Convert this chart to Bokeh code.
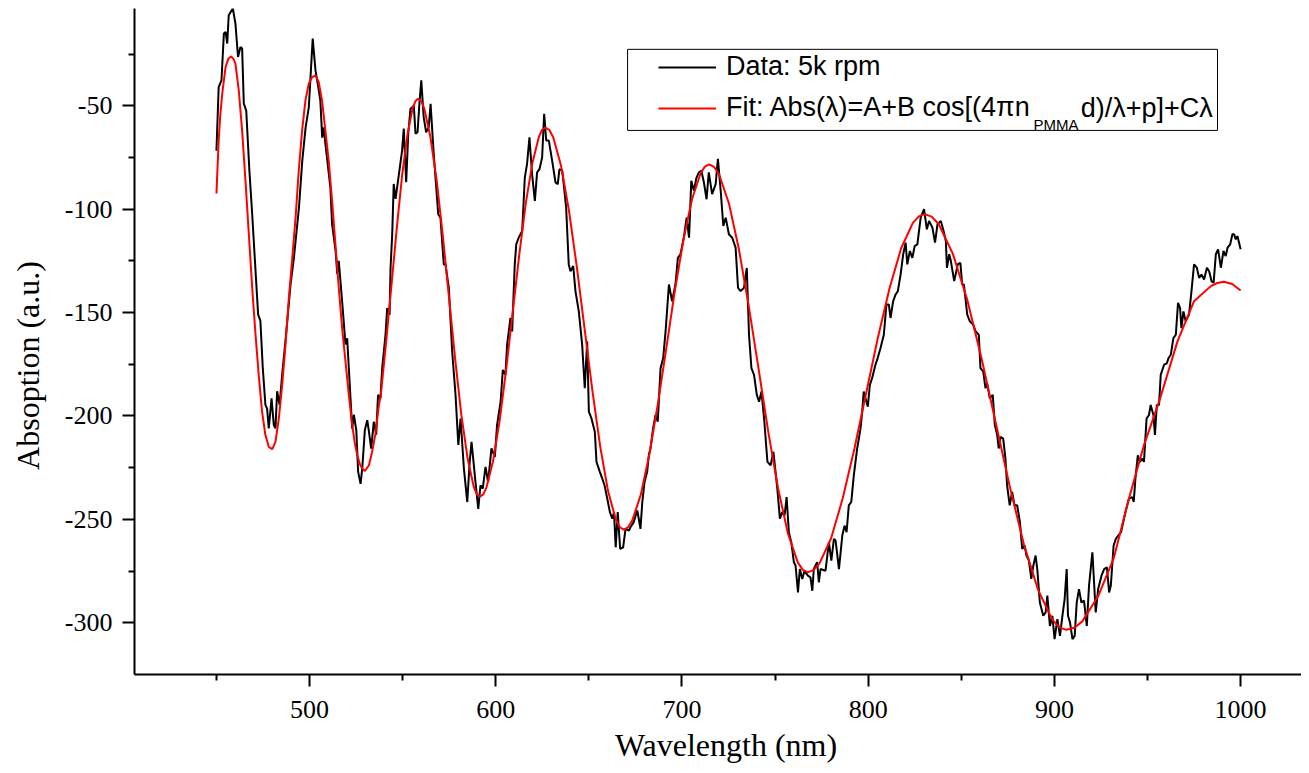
from bokeh.plotting import figure
from bokeh.models import Range1d, FixedTicker, Legend, LegendItem, Label, BoxAnnotation
from bokeh.core.properties import value
from bokeh.embed import file_html
from bokeh.resources import INLINE

# ---------------- data ----------------
wl_data = [
    450.0, 451.2, 452.7, 454.0, 454.9, 455.8, 456.6, 458.8, 460.2, 461.6,
    462.9, 463.8, 464.7, 466.0, 467.7, 469.2, 470.9, 472.4, 473.6, 474.9,
    476.3, 477.2, 478.1, 479.6, 480.8, 481.7, 482.6, 483.9, 485.5, 487.2,
    489.8, 491.6, 494.3, 496.1, 497.9, 499.6, 501.7, 503.2, 504.1, 505.8,
    506.8, 507.6, 508.5, 511.2, 512.1, 514.0, 514.9, 515.7, 517.5, 519.3,
    520.2, 521.1, 522.9, 523.8, 525.1, 526.1, 527.4, 528.3, 529.7, 531.0,
    531.9, 533.1, 534.5, 535.8, 536.8, 538.1, 539.0, 540.8, 541.7, 543.0,
    543.5, 544.4, 545.2,
    546.2, 548.0, 549.7, 550.6, 551.9, 553.0, 554.2, 556.0, 556.9, 558.0,
    559.0, 560.0, 561.3, 562.6, 564.0, 565.0, 566.7, 569.1, 570.3, 572.1,
    573.0, 574.8, 576.6, 578.4, 579.9, 581.1, 582.9, 584.7, 586.0, 587.0,
    589.1, 590.6, 591.8, 593.0, 594.5, 595.9, 597.7, 599.5, 600.7, 602.6,
    603.8, 605.2, 606.1, 607.9, 608.8, 610.2, 611.0, 612.3, 614.2, 615.6,
    616.8, 618.1, 619.5, 621.0, 622.2, 623.5, 624.9, 626.0, 627.1, 628.5,
    630.3, 632.1, 633.3, 634.2, 635.7, 636.5, 637.8, 639.2, 640.1, 641.6,
    642.8, 644.6, 646.4, 647.8, 649.1, 650.0, 651.4, 653.2,
    654.1, 655.9, 657.2, 658.4, 659.9, 661.3, 662.6, 663.5, 664.4, 665.5,
    666.8, 668.4, 669.7, 671.5, 672.4, 674.1, 676.0, 676.8, 677.7, 678.7,
    679.9, 681.3, 682.2, 683.1, 684.5, 685.8, 687.0, 688.5, 689.9, 691.2,
    693.0, 694.7, 696.5, 697.8, 699.2, 701.0, 702.5, 703.8, 705.0, 706.4,
    707.8, 709.1, 710.4, 711.8, 713.2, 714.4, 716.2, 718.1, 719.3, 720.8,
    722.2, 723.5, 725.2, 727.0, 728.8, 730.1, 731.5, 733.3, 734.8, 736.0,
    737.3, 738.7, 740.2, 741.4, 742.7, 744.1, 745.9, 747.6, 749.1, 751.2,
    752.6,
    753.8, 755.1, 756.2, 757.4, 758.7, 760.1, 761.0, 762.3, 763.3, 764.6,
    765.8, 767.6, 769.0, 770.0, 770.8, 772.6, 773.5, 774.4, 777.1, 778.9,
    780.2, 781.6, 782.5, 784.3, 786.1, 787.3, 788.4, 789.6, 790.9, 792.3,
    794.1, 795.9, 796.8, 797.6, 798.6, 799.8, 800.9, 802.1, 803.9, 805.1,
    806.6, 808.4, 809.8, 811.1, 812.0, 813.4, 814.7, 815.9, 817.4, 818.8,
    820.1, 821.0, 822.4, 823.7, 825.0, 826.4, 828.2, 830.0, 831.5, 832.7,
    834.5, 835.9, 837.2, 839.0, 840.5, 841.7, 842.3, 843.5, 844.4, 846.2,
    848.1, 849.5,
    850.5, 851.4, 853.2, 854.6, 856.4, 857.7, 859.4, 860.3, 861.8, 863.0,
    863.9, 865.3, 866.9, 868.0, 869.3, 870.1, 871.1, 872.5, 873.7, 874.6,
    876.0, 877.3, 878.6, 880.0, 881.5, 882.7, 884.0, 885.0, 886.3, 887.6,
    888.7, 889.9, 890.8, 892.2, 894.0, 895.3, 896.2, 897.6, 898.9, 900.1,
    901.6, 903.0, 904.3, 905.5, 906.6, 907.3, 908.4, 909.7, 910.9, 912.0,
    913.2, 914.5, 915.9, 917.4, 918.6, 920.4, 922.2, 923.5, 925.3, 926.7,
    928.2, 929.4, 930.3, 931.8, 933.0, 934.3, 935.8, 938.0,
    940.0, 941.8, 942.6, 943.5, 944.8, 945.9, 947.2, 948.1, 949.5, 950.8,
    951.7, 953.2, 954.0, 955.0, 956.2, 957.1, 958.9, 960.4, 961.3, 962.5,
    963.9, 965.2, 966.4, 967.5, 968.2, 969.3, 970.5, 972.3, 973.6, 975.0,
    976.5, 977.7, 979.0, 980.4, 981.9, 983.1, 984.4, 985.5, 986.7, 987.9,
    989.4, 990.8, 992.0, 993.0, 994.4, 995.6, 996.5, 997.4, 998.3, 1000.0,
]

abs_data = [
    -71.7, -41.0, -37.7, -15.0, -14.3, -19.9, -6.2, -2.9, -10.2, -26.4,
    -21.6, -22.3, -48.9, -52.3, -81.4, -102.3, -128.4, -151.0, -154.0, -177.0,
    -194.6, -196.4, -206.0, -191.5, -204.3, -206.0, -188.0, -194.6, -178.0, -162.4,
    -136.4, -123.5, -99.4, -76.5, -60.4, -50.8, -17.5, -32.9, -37.7, -47.4,
    -65.4, -60.5, -68.3, -89.6, -107.2, -120.2, -131.4, -125.0, -144.5, -165.4,
    -162.4, -176.9, -206.1, -199.4, -206.8, -227.0, -232.8, -225.5, -206.8, -202.0,
    -207.6, -215.8, -202.8, -209.0, -189.8, -191.5, -176.9, -160.7, -147.8, -151.0,
    -128.4, -112.0, -87.8,
    -95.0, -83.0, -71.7, -61.0, -87.0, -63.5, -51.5, -49.9, -63.5, -62.8,
    -49.0, -37.7, -55.5, -62.8, -60.4, -49.0, -73.3, -102.4, -104.1, -126.7,
    -126.7, -138.0, -168.8, -189.8, -214.0, -201.2, -225.4, -241.6, -222.2, -212.5,
    -231.9, -244.9, -233.5, -235.1, -224.6, -231.9, -215.7, -219.8, -204.4, -193.1,
    -177.7, -180.1, -165.5, -152.6, -159.1, -126.7, -117.0, -113.8, -110.5, -84.7,
    -78.2, -65.2, -83.0, -96.0, -82.2, -80.6, -75.0, -53.9, -66.8, -66.8,
    -76.6, -87.1, -87.9, -80.6, -81.4, -87.9, -99.2, -126.7, -130.0, -127.5,
    -139.6, -149.4, -165.5, -186.6, -163.9, -197.9, -201.2, -207.6,
    -222.2, -227.0, -230.3, -233.5, -240.0, -246.5, -249.7, -246.5, -263.5, -246.5,
    -264.3, -263.5, -254.6, -255.4, -253.7, -251.3, -245.6, -249.7, -254.6, -241.6,
    -231.9, -227.0, -218.9, -215.7, -206.0, -199.5, -202.8, -176.9, -172.0, -159.1,
    -136.4, -144.5, -136.4, -123.5, -121.8, -113.8, -104.1, -113.8, -86.3, -91.1,
    -84.7, -82.2, -81.4, -87.1, -95.2, -82.2, -92.7, -87.9, -75.7, -91.1,
    -108.1, -104.1, -112.1, -113.8, -118.6, -138.0, -139.6, -138.0, -128.4, -160.7,
    -176.9, -180.1, -189.8, -193.1, -188.2, -201.2, -222.2, -223.8, -217.3, -235.1,
    -249.7,
    -246.5, -248.1, -239.2, -256.2, -261.0, -270.7, -272.3, -285.3, -274.0, -278.8,
    -274.8, -277.2, -278.0, -284.5, -274.0, -270.7, -280.4, -274.0, -274.8, -261.0,
    -269.9, -259.4, -260.2, -274.0, -257.8, -253.0, -256.2, -243.2, -241.6, -228.6,
    -215.7, -206.0, -197.9, -188.2, -191.5, -195.5, -185.0, -181.7, -175.2, -172.0,
    -167.2, -160.7, -146.1, -146.1, -152.6, -144.5, -141.3, -139.7, -131.6, -121.8,
    -116.2, -126.7, -120.2, -123.5, -117.8, -117.0, -104.1, -100.0, -109.7, -105.7,
    -108.9, -116.2, -107.3, -105.7, -110.5, -115.4, -128.4, -121.8, -125.1, -134.8,
    -126.7, -125.9,
    -136.4, -136.4, -151.0, -154.2, -155.8, -159.1, -160.7, -176.9, -178.5, -186.6,
    -184.2, -191.5, -189.8, -204.4, -209.2, -215.7, -210.1, -210.9, -220.6, -233.5,
    -243.2, -236.7, -243.2, -243.2, -251.3, -264.3, -262.6, -267.5, -269.9, -278.8,
    -272.3, -267.5, -274.0, -290.2, -296.6, -295.0, -286.9, -301.5, -296.6, -307.9,
    -298.2, -306.3, -296.6, -288.5, -274.0, -296.6, -299.9, -307.9, -306.3, -290.1,
    -283.7, -290.2, -289.3, -301.5, -282.0, -265.9, -295.0, -283.7, -277.2, -274.0,
    -273.2, -285.3, -282.0, -262.6, -259.4, -257.8, -256.2, -247.0,
    -240.0, -239.2, -241.6, -230.3, -219.0, -222.2, -220.6, -222.2, -201.2, -199.5,
    -194.7, -199.5, -209.2, -194.7, -194.7, -180.1, -175.2, -174.5, -172.0, -170.4,
    -162.3, -160.7, -145.3, -147.8, -157.5, -149.4, -154.2, -151.0, -139.7, -126.7,
    -128.3, -133.2, -131.6, -134.0, -128.3, -130.0, -134.8, -135.6, -121.8, -119.4,
    -128.3, -120.2, -122.7, -118.6, -117.0, -112.1, -112.1, -114.6, -113.0, -119.4,
]

wl_fit = [
    450.0, 451.2, 452.1, 453.1, 454.9, 456.4, 457.9, 459.2, 460.2, 462.0,
    463.8, 465.6, 467.4, 469.2, 471.0, 472.7, 474.5, 476.3, 478.1, 480.0,
    481.7, 483.5, 485.3, 487.1, 488.9, 490.6, 492.5, 494.2, 496.0, 497.8,
    499.6, 501.4, 503.2, 504.9, 506.7, 508.5, 510.3, 512.1, 513.9, 515.7,
    517.5, 519.3, 521.1, 522.9, 524.3, 525.6, 527.0, 528.3, 529.7, 531.9,
    533.6, 535.4, 537.2, 538.3, 541.1, 544.0, 546.9, 549.7, 552.6, 555.4,
    556.9, 558.3, 560.0, 561.6, 564.9, 568.3, 571.6, 574.9, 578.2, 581.5,
    584.9, 588.2, 589.8, 591.5, 593.3, 595.0, 598.5, 602.1, 605.6, 609.1,
    612.6, 616.1, 619.7, 623.2, 624.9, 626.7, 628.8, 630.9, 635.1, 639.3,
    643.5, 647.7, 651.9, 656.1, 660.3, 664.5, 666.6, 668.7, 671.0, 673.3,
    677.9, 682.5, 687.1, 691.7, 696.2, 700.8, 705.4, 710.0, 712.3, 714.6,
    717.2, 719.9, 725.2, 730.5, 735.8, 741.1, 746.3, 751.6, 756.9, 762.2,
    764.9, 767.5, 770.6, 773.8, 780.1, 786.3, 792.6, 798.9, 805.2, 811.5,
    817.7, 824.0, 827.2, 830.3, 834.1, 837.9, 845.5, 853.2, 860.8, 868.4,
    876.0, 883.6, 891.3, 898.9, 902.7, 906.5, 910.7, 915.0, 923.4, 931.9,
    940.0, 948.1, 956.2, 966.1, 975.0, 984.0, 987.5, 991.0, 995.5, 1000.0,
]

abs_fit = [
    -92.4, -66.8, -54.0, -44.2, -31.3, -27.3, -26.1, -27.4, -29.6, -42.6,
    -62.0, -86.3, -112.1, -138.0, -160.7, -180.1, -197.9, -209.2, -214.9, -216.0,
    -212.5, -201.2, -185.0, -165.5, -142.9, -125.1, -104.1, -81.4, -62.0, -47.4,
    -39.3, -36.1, -35.3, -38.5, -47.4, -62.0, -76.6, -96.0, -117.0, -138.0,
    -157.5, -173.6, -189.8, -204.4, -213.0, -218.9, -223.2, -225.4, -226.6, -223.8,
    -217.3, -208.5, -195.0, -189.5, -164.4, -136.6, -108.8, -83.7, -63.8, -51.0,
    -47.7, -46.6, -47.8, -51.3, -65.0, -86.3, -113.1, -142.8, -172.5, -199.3,
    -220.6, -234.3, -237.8, -239.0, -237.9, -234.6, -222.0, -202.2, -177.3, -149.8,
    -122.2, -97.3, -77.5, -64.9, -61.6, -60.5, -61.7, -65.3, -79.1, -100.6,
    -127.7, -157.7, -187.7, -214.8, -236.3, -250.1, -253.7, -254.9, -253.8, -250.6,
    -238.0, -218.5, -193.9, -166.6, -139.3, -114.7, -95.2, -82.6, -79.4, -78.3,
    -79.5, -83.1, -97.1, -119.0, -146.5, -177.0, -207.4, -234.9, -256.8, -270.8,
    -274.4, -275.6, -274.5, -271.4, -259.1, -239.9, -215.8, -189.0, -162.2, -138.1,
    -118.9, -106.6, -103.5, -102.4, -103.6, -107.3, -121.6, -143.8, -171.8, -202.9,
    -234.0, -262.0, -284.2, -298.5, -302.2, -303.4, -302.4, -299.3, -287.3, -268.7,
    -240.0, -214.1, -193.1, -163.9, -144.5, -137.2, -135.7, -135.1, -136.2, -139.3,
]

x_major = [500, 600, 700, 800, 900, 1000]
x_minor = [450, 550, 650, 750, 850, 950]
y_major = [-300, -250, -200, -150, -100, -50]
y_minor = [-275, -225, -175, -125, -75, -25]

data_label = "Data: 5k rpm"
fit_label_main = "Fit: Abs(\u03bb)=A+B cos[(4\u03c0n"
fit_label_sub = "PMMA"
fit_label_tail = "d)/\u03bb+p]+C\u03bb"
x_title = "Wavelength (nm)"
y_title = "Absoption (a.u.)"

assert len(wl_data) == len(abs_data)
assert len(wl_fit) == len(abs_fit)

SERIF = "Liberation Serif"
SANS = "Liberation Sans"

p = figure(width=1301, height=765, output_backend="svg", toolbar_location=None,
           x_range=Range1d(406.0, 1032.7), y_range=Range1d(-325.0, -2.95),
           min_border_left=134, min_border_right=0, min_border_top=8,
           min_border_bottom=91)

p.outline_line_color = None
p.xgrid.visible = False
p.ygrid.visible = False
p.background_fill_color = "white"
p.border_fill_color = "white"

for ax in (p.xaxis[0], p.yaxis[0]):
    ax.axis_line_width = 2
    ax.axis_line_color = "black"
    ax.major_tick_line_width = 2
    ax.minor_tick_line_width = 2
    ax.major_tick_line_color = "black"
    ax.minor_tick_line_color = "black"
    ax.major_tick_in = 0
    ax.major_tick_out = 12
    ax.minor_tick_in = 0
    ax.minor_tick_out = 6
    ax.major_label_text_font = SERIF
    ax.major_label_text_font_size = "26px"
    ax.major_label_text_color = "black"
    ax.axis_label_text_font = SERIF
    ax.axis_label_text_font_size = "32px"
    ax.axis_label_text_font_style = "normal"
    ax.axis_label_text_color = "black"

p.xaxis.ticker = FixedTicker(ticks=x_major, minor_ticks=x_minor)
p.yaxis.ticker = FixedTicker(ticks=y_major, minor_ticks=y_minor)
p.xaxis.major_label_overrides = {v: str(v) for v in x_major}
p.yaxis.major_label_overrides = {v: str(v) for v in y_major}
p.xaxis.major_label_standoff = 14
p.yaxis.major_label_standoff = 10

# leading no-break spaces nudge the title right, to where the reference has it
p.xaxis.axis_label = "\u00a0\u00a0" + x_title
p.xaxis.axis_label_standoff = 6
# trailing no-break spaces shift the rotated title down to where the reference has it
p.yaxis.axis_label = y_title + "\u00a0" * 6
p.yaxis.axis_label_standoff = 16

r_data = p.line(wl_data, abs_data, line_color="black", line_width=2)
r_fit = p.line(wl_fit, abs_fit, line_color="#ff0000", line_width=2)

# legend frame
p.add_layout(BoxAnnotation(left=670.8, right=987.6, top=-22.7, bottom=-61.9,
                           fill_alpha=0, fill_color=None, line_color="black",
                           line_width=1, line_alpha=1))

legend = Legend(items=[LegendItem(label=value(data_label), renderers=[r_data]),
                       LegendItem(label=value(fit_label_main), renderers=[r_fit])],
                location=(524, 551), border_line_color=None,
                background_fill_alpha=0, padding=0, margin=0, spacing=10,
                glyph_width=58, glyph_height=30, label_height=30,
                label_standoff=10, label_text_font=SANS,
                label_text_font_size="27px", label_text_color="black")
p.add_layout(legend)

p.add_layout(Label(x=888.8, y=-59.0, text=fit_label_sub, text_font=SANS,
                   text_font_size="15px", text_align="left",
                   text_baseline="alphabetic", text_color="black"))
p.add_layout(Label(x=914.1, y=-51.3, text=fit_label_tail, text_font=SANS,
                   text_font_size="27px", text_align="left",
                   text_baseline="middle", text_color="black"))

open("out.html", "w").write(file_html(p, INLINE))
